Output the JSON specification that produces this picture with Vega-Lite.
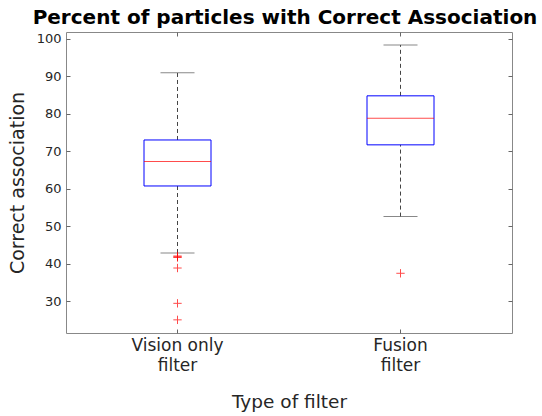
{
  "$schema": "https://vega.github.io/schema/vega-lite/v6.json",
  "width": 446,
  "height": 301,
  "autosize": "none",
  "padding": {"left": 66, "top": 32, "right": 30, "bottom": 83},
  "background": "white",
  "title": {
    "text": "Percent of particles with Correct Association",
    "font": "DejaVu Sans",
    "fontSize": 20,
    "fontWeight": "bold",
    "color": "black",
    "anchor": "middle",
    "baseline": "alphabetic",
    "offset": 9,
    "dy": 21,
    "dx": -4
  },
  "config": {
    "view": {"stroke": "#888888", "strokeWidth": 1},
    "font": "DejaVu Sans",
    "axis": {
      "grid": false,
      "domain": false,
      "tickColor": "#666666",
      "tickSize": -4,
      "labelColor": "#262626",
      "titleColor": "#262626",
      "titleFontWeight": "normal",
      "labelFont": "DejaVu Sans",
      "titleFont": "DejaVu Sans"
    }
  },
  "datasets": {
    "boxes": [
      {"filter": "Vision only filter", "lower": 42.9, "q1": 60.75, "median": 67.3, "q3": 73.0, "upper": 90.9},
      {"filter": "Fusion filter", "lower": 52.6, "q1": 71.7, "median": 78.8, "q3": 84.75, "upper": 98.3}
    ],
    "outliers": [
      {"filter": "Vision only filter", "value": 42.1},
      {"filter": "Vision only filter", "value": 41.9},
      {"filter": "Vision only filter", "value": 41.7},
      {"filter": "Vision only filter", "value": 38.9},
      {"filter": "Vision only filter", "value": 29.5},
      {"filter": "Vision only filter", "value": 25.1},
      {"filter": "Fusion filter", "value": 37.5}
    ]
  },
  "resolve": {"axis": {"x": "independent", "y": "independent"}},
  "layer": [
    {
      "data": {"name": "boxes"},
      "encoding": {
        "x": {
          "field": "filter",
          "type": "nominal",
          "sort": ["Vision only filter", "Fusion filter"],
          "scale": {"type": "band", "paddingInner": 0, "paddingOuter": 0, "domain": ["Vision only filter", "Fusion filter"]},
          "axis": {
            "orient": "bottom",
            "title": "Type of filter",
            "titleFontSize": 18.5,
            "titlePadding": 19,
            "labelFontSize": 17,
            "labelAngle": 0,
            "labelPadding": 8,
            "labelLineHeight": 20,
            "labelExpr": "datum.value == 'Vision only filter' ? ['Vision only', 'filter'] : ['Fusion', 'filter']"
          }
        }
      },
      "layer": [
        {
          "mark": {"type": "rule", "color": "#444444", "strokeDash": [4, 3], "strokeWidth": 1},
          "encoding": {
            "y": {"field": "q3", "type": "quantitative", "scale": {"domain": [21.6, 101.75], "nice": false, "zero": false},
              "axis": {"orient": "left", "title": "Correct association", "titleFontSize": 19, "titlePadding": 9, "labelFontSize": 13, "labelPadding": 9, "values": [30, 40, 50, 60, 70, 80, 90, 100]}},
            "y2": {"field": "upper"}
          }
        },
        {
          "mark": {"type": "rule", "color": "#444444", "strokeDash": [4, 3], "strokeWidth": 1},
          "encoding": {
            "y": {"field": "lower", "type": "quantitative"},
            "y2": {"field": "q1"}
          }
        },
        {
          "mark": {"type": "tick", "color": "#555555", "size": 34, "thickness": 1},
          "encoding": {"y": {"field": "upper", "type": "quantitative"}}
        },
        {
          "mark": {"type": "tick", "color": "#555555", "size": 34, "thickness": 1},
          "encoding": {"y": {"field": "lower", "type": "quantitative"}}
        },
        {
          "mark": {"type": "bar", "width": 67, "fill": "transparent", "stroke": "#0000ff", "strokeWidth": 1},
          "encoding": {
            "y": {"field": "q1", "type": "quantitative"},
            "y2": {"field": "q3"}
          }
        },
        {
          "mark": {"type": "tick", "color": "#ff0000", "size": 67, "thickness": 1},
          "encoding": {"y": {"field": "median", "type": "quantitative"}}
        },
        {
          "data": {"name": "outliers"},
          "mark": {"type": "point", "shape": "M-1,0L1,0M0,-1L0,1", "filled": false, "stroke": "#ff0000", "strokeWidth": 1, "size": 70},
          "encoding": {"y": {"field": "value", "type": "quantitative"}}
        }
      ]
    },
    {
      "data": {"name": "boxes"},
      "mark": {"type": "point", "opacity": 0},
      "encoding": {
        "x": {"field": "filter", "type": "nominal", "axis": {"orient": "top", "labels": false, "title": null}},
        "y": {"field": "median", "type": "quantitative", "axis": {"orient": "right", "labels": false, "title": null, "values": [30, 40, 50, 60, 70, 80, 90, 100]}}
      }
    }
  ]
}
